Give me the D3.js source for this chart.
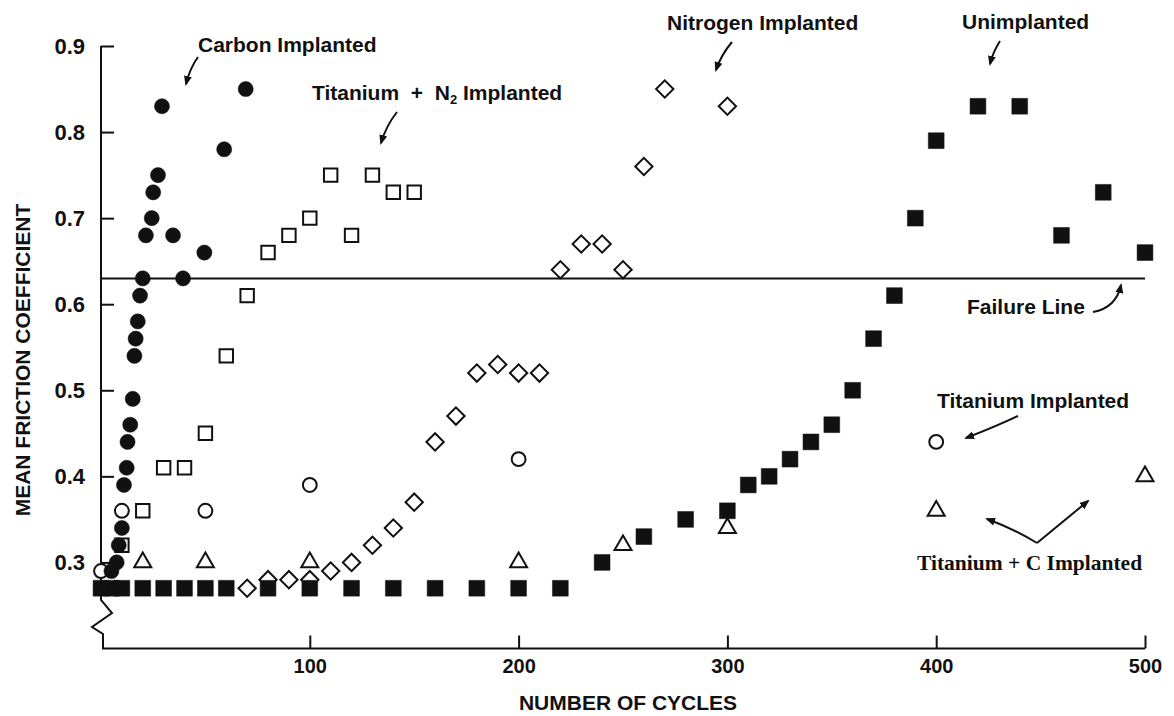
<!DOCTYPE html>
<html>
<head>
<meta charset="utf-8">
<script src="https://cdn.jsdelivr.net/npm/d3@7"></script>
<style>
  html, body { margin: 0; padding: 0; background: #fff; }
  svg { display: block; }
  text { font-family: "Liberation Sans", Arial, sans-serif; fill: #111; }
</style>
</head>
<body>
<div id="vis"></div>
<script>
// number of cycles / mean friction coefficient, one pair of arrays per sample
var carbonCycles = [0, 5, 7.5, 8.5, 10, 11, 12.3, 12.7, 14, 15.2, 16, 16.6, 17.6, 18.7, 20, 21.5, 24.3, 25, 27.3, 29.2, 34.5, 39.3, 49.5, 59, 69.3];
var carbonFriction = [0.27, 0.29, 0.30, 0.32, 0.34, 0.39, 0.41, 0.44, 0.46, 0.49, 0.54, 0.56, 0.58, 0.61, 0.63, 0.68, 0.70, 0.73, 0.75, 0.83, 0.68, 0.63, 0.66, 0.78, 0.85];

var unimplCycles = [0, 5, 10, 20, 30, 40, 50, 60, 80, 100, 120, 140, 160, 180, 200, 220, 240, 260, 280, 300, 310, 320, 330, 340, 350, 360, 370, 380, 390, 400, 420, 440, 460, 480, 500];
var unimplFriction = [0.27, 0.27, 0.27, 0.27, 0.27, 0.27, 0.27, 0.27, 0.27, 0.27, 0.27, 0.27, 0.27, 0.27, 0.27, 0.27, 0.30, 0.33, 0.35, 0.36, 0.39, 0.40, 0.42, 0.44, 0.46, 0.50, 0.56, 0.61, 0.70, 0.79, 0.83, 0.83, 0.68, 0.73, 0.66];

var tiN2Cycles = [10, 20, 30, 40, 50, 60, 70, 80, 90, 100, 110, 120, 130, 140, 150];
var tiN2Friction = [0.32, 0.36, 0.41, 0.41, 0.45, 0.54, 0.61, 0.66, 0.68, 0.70, 0.75, 0.68, 0.75, 0.73, 0.73];

var nitrogenCycles = [70, 80, 90, 100, 110, 120, 130, 140, 150, 160, 170, 180, 190, 200, 210, 220, 230, 240, 250, 260, 270, 300];
var nitrogenFriction = [0.27, 0.28, 0.28, 0.28, 0.29, 0.30, 0.32, 0.34, 0.37, 0.44, 0.47, 0.52, 0.53, 0.52, 0.52, 0.64, 0.67, 0.67, 0.64, 0.76, 0.85, 0.83];

var titaniumCycles = [0, 10, 50, 100, 200, 400];
var titaniumFriction = [0.29, 0.36, 0.36, 0.39, 0.42, 0.44];

var tiCCycles = [20, 50, 100, 200, 250, 300, 400, 500];
var tiCFriction = [0.30, 0.30, 0.30, 0.30, 0.32, 0.34, 0.36, 0.40];

var failureLine = 0.63;
var xTicks = [100, 200, 300, 400, 500];
var yTicks = [0.3, 0.4, 0.5, 0.6, 0.7, 0.8, 0.9];

var width = 1174, height = 716;
var ink = "#111";

var svg = d3.select("#vis").append("svg")
    .attr("width", width)
    .attr("height", height);

svg.append("rect").attr("width", width).attr("height", height).attr("fill", "#fff");

svg.append("defs").append("marker")
    .attr("id", "head")
    .attr("viewBox", "0 0 10 10")
    .attr("refX", 8).attr("refY", 5)
    .attr("markerWidth", 10).attr("markerHeight", 10)
    .attr("markerUnits", "userSpaceOnUse")
    .attr("orient", "auto")
    .append("path")
    .attr("d", "M0,1 L10,5 L0,9 Z")
    .attr("fill", ink);

var x = d3.scaleLinear().domain([0, 500]).range([101, 1145]);
var y = d3.scaleLinear().domain([0.2, 0.9]).range([648.5, 46]);

// axes
var yAxis = d3.axisLeft(y).tickValues(yTicks).tickFormat(d3.format(".1f")).tickSize(-13).tickPadding(16);
var gy = svg.append("g").attr("transform", "translate(" + x(0) + ",0)").call(yAxis);
gy.select(".domain").remove();
gy.attr("font-size", null).attr("font-family", null);
gy.selectAll("line").attr("stroke", ink).attr("stroke-width", 2);
gy.selectAll("text").attr("fill", ink).style("font-size", "22px").style("font-weight", "bold");

var xAxis = d3.axisBottom(x).tickValues(xTicks).tickSize(-13).tickPadding(10);
var gx = svg.append("g").attr("transform", "translate(0," + y(0.2) + ")").call(xAxis);
gx.select(".domain").remove();
gx.attr("font-size", null).attr("font-family", null);
gx.selectAll("line").attr("stroke", ink).attr("stroke-width", 2);
gx.selectAll("text").attr("fill", ink).style("font-size", "20px").style("font-weight", "bold");

// y axis line with the break near the bottom
var x0 = x(0), yb = 600, yEnd = y(0.2);
svg.append("path")
    .attr("d", d3.line()([[x0, y(0.9)], [x0, yb], [x0 + 11, yb + 13], [x0 - 9, yb + 27], [x0 + 2, yb + 34], [x0 + 2, yEnd]]))
    .attr("fill", "none").attr("stroke", ink).attr("stroke-width", 2);
svg.append("line")
    .attr("x1", x0 + 1).attr("x2", x(500)).attr("y1", yEnd).attr("y2", yEnd)
    .attr("stroke", ink).attr("stroke-width", 2.2);

// failure line
svg.append("line")
    .attr("x1", x(0)).attr("x2", x(500))
    .attr("y1", y(failureLine)).attr("y2", y(failureLine))
    .attr("stroke", ink).attr("stroke-width", 2);

// axis titles
svg.append("text")
    .attr("x", 628).attr("y", 710)
    .attr("text-anchor", "middle")
    .style("font-size", "21px").style("font-weight", "bold")
    .text("NUMBER OF CYCLES");
svg.append("text")
    .attr("transform", "translate(30,360)rotate(-90)")
    .attr("text-anchor", "middle")
    .style("font-size", "21px").style("font-weight", "bold")
    .text("MEAN FRICTION COEFFICIENT");

function plot(cycles, friction, type, size, filled, rotate) {
    svg.append("g").selectAll("path")
        .data(d3.zip(cycles, friction))
        .enter().append("path")
        .attr("transform", function (d) { return "translate(" + x(d[0]) + "," + y(d[1]) + ")" + (rotate ? "rotate(45)" : ""); })
        .attr("d", d3.symbol().type(type).size(size))
        .attr("fill", filled ? ink : "#fff")
        .attr("stroke", ink)
        .attr("stroke-width", filled ? 0.5 : 2);
}

plot(nitrogenCycles, nitrogenFriction, d3.symbolSquare, 150, false, true);
plot(tiN2Cycles, tiN2Friction, d3.symbolSquare, 180, false, false);
plot(titaniumCycles, titaniumFriction, d3.symbolCircle, 150, false, false);
plot(tiCCycles, tiCFriction, d3.symbolTriangle, 125, false, false);
plot(unimplCycles, unimplFriction, d3.symbolSquare, 250, true, false);
plot(carbonCycles, carbonFriction, d3.symbolCircle, 180, true, false);

// annotations
var labels = [
    { t: "Carbon Implanted", x: 198, y: 52 },
    { t: "Nitrogen Implanted", x: 667, y: 30 },
    { t: "Unimplanted", x: 962, y: 29 },
    { t: "Failure Line", x: 967, y: 314 },
    { t: "Titanium Implanted", x: 937, y: 408 }
];
svg.selectAll(".lbl").data(labels).enter().append("text")
    .attr("class", "lbl")
    .attr("x", function (d) { return d.x; })
    .attr("y", function (d) { return d.y; })
    .style("font-size", "21px").style("font-weight", "bold")
    .text(function (d) { return d.t; });

var tn = svg.append("text").attr("x", 312).attr("y", 100)
    .style("font-size", "21px").style("font-weight", "bold")
    .attr("xml:space", "preserve");
tn.append("tspan").text("Titanium  +  N");
tn.append("tspan").attr("dy", 4).style("font-size", "13px").text("2");
tn.append("tspan").attr("dy", -4).text(" Implanted");

svg.append("text").attr("x", 917).attr("y", 570)
    .style("font-family", "'Liberation Serif', 'Times New Roman', serif")
    .style("font-size", "21.5px").style("font-weight", "bold")
    .text("Titanium + C Implanted");

var arrows = [
    "M198,57 Q190,68 186,84",
    "M397,112 Q386,126 381,143",
    "M732,42 Q721,55 716,70",
    "M1000,41 Q993,52 990,64",
    "M1093,312 Q1116,308 1121,285",
    "M1018,416 Q995,427 966,438",
    "M1037,543 Q1012,528 987,519",
    "M1037,543 L1088,501"
];
svg.selectAll(".arrow").data(arrows).enter().append("path")
    .attr("class", "arrow")
    .attr("d", function (d) { return d; })
    .attr("fill", "none")
    .attr("stroke", ink)
    .attr("stroke-width", 2)
    .attr("marker-end", "url(#head)");
</script>
</body>
</html>
